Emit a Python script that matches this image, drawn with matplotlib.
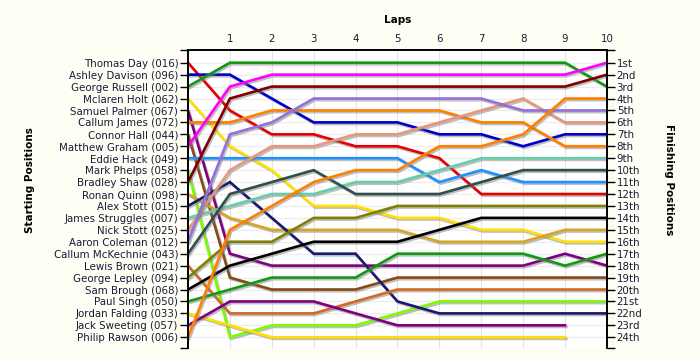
import matplotlib
matplotlib.use("Agg")
import matplotlib.pyplot as plt
import matplotlib.patheffects as pe

# ─────────────────────────────────────────────
# ДАНІ
# ─────────────────────────────────────────────

laps = [0, 1, 2, 3, 4, 5, 6, 7, 8, 9, 10]

drivers = [
    "Thomas Day (016)", "Ashley Davison (096)", "George Russell (002)",
    "Mclaren Holt (062)", "Samuel Palmer (067)", "Callum James (072)",
    "Connor Hall (044)", "Matthew Graham (005)", "Eddie Hack (049)",
    "Mark Phelps (058)", "Bradley Shaw (028)", "Ronan Quinn (098)",
    "Alex Stott (015)", "James Struggles (007)", "Nick Stott (025)",
    "Aaron Coleman (012)", "Callum McKechnie (043)", "Lewis Brown (021)",
    "George Lepley (094)", "Sam Brough (068)", "Paul Singh (050)",
    "Jordan Falding (033)", "Jack Sweeting (057)", "Philip Rawson (006)",
]

finish_labels = [
    "1st", "2nd", "3rd", "4th", "5th", "6th", "7th", "8th", "9th", "10th",
    "11th", "12th", "13th", "14th", "15th", "16th", "17th", "18th", "19th",
    "20th", "21st", "22nd", "23rd", "24th",
]

line_colors = [
    "#e60000", "#0000cc", "#119911", "#ffe000", "#800080", "#ff8000",
    "#8b4a13", "#ff00ff", "#1e90ff", "#7cfc00", "#800000", "#daa520",
    "#191970", "#66cdaa", "#e9967a", "#9370db", "#2f4f4f", "#d2691e",
    "#808000", "#000000", "#119911", "#ffe000", "#800080", "#ff8000",
]

# позиція кожного гонщика після кожного кола (None = зійшов)
lap_positions = [
    [1, 5, 7, 7, 8, 8, 9, 12, 12, 12, 12],
    [2, 2, 4, 6, 6, 6, 7, 7, 8, 7, 7],
    [3, 1, 1, 1, 1, 1, 1, 1, 1, 1, 3],
    [4, 8, 10, 13, 13, 14, 14, 15, 15, 16, 16],
    [5, 17, 18, 18, 18, 18, 18, 18, 18, 17, 18],
    [6, 6, 5, 5, 5, 5, 5, 6, 6, 8, 8],
    [7, 19, 20, 20, 20, 19, 19, 19, 19, 19, 19],
    [8, 3, 2, 2, 2, 2, 2, 2, 2, 2, 1],
    [9, 9, 9, 9, 9, 9, 11, 10, 11, 11, 11],
    [10, 24, 23, 23, 23, 22, 21, 21, 21, 21, 21],
    [11, 4, 3, 3, 3, 3, 3, 3, 3, 3, 2],
    [12, 14, 15, 15, 15, 15, 16, 16, 16, 15, 15],
    [13, 11, 14, 17, 17, 21, 22, 22, 22, 22, 22],
    [14, 13, 12, 12, 11, 11, 10, 9, 9, 9, 9],
    [15, 10, 8, 8, 7, 7, 6, 5, 4, 6, 6],
    [16, 7, 6, 4, 4, 4, 4, 4, 5, 5, 5],
    [17, 12, 11, 10, 12, 12, 12, 11, 10, 10, 10],
    [18, 22, 22, 22, 21, 20, 20, 20, 20, 20, 20],
    [19, 16, 16, 14, 14, 13, 13, 13, 13, 13, 13],
    [20, 18, 17, 16, 16, 16, 15, 14, 14, 14, 14],
    [21, 20, 19, 19, 19, 17, 17, 17, 17, 18, 17],
    [22, 23, 24, 24, 24, 24, 24, 24, 24, 24, None],
    [23, 21, 21, 21, 22, 23, 23, 23, 23, 23, None],
    [24, 15, 13, 11, 10, 10, 8, 8, 7, 4, 4],
]

BG = "#fefef4"
TEXT = "#1a1a3a"
OUTPUT_CHART = "out.png"


def build_chart(output_path):
    fig = plt.figure(figsize=(7, 3.6), dpi=100)
    fig.patch.set_facecolor(BG)
    ax = fig.add_axes([0.2686, 0.034, 0.5985, 0.827])
    ax.set_facecolor("white")

    n = len(drivers)
    y_top, y_bottom = -0.06, n + 0.88

    for color, pos in zip(line_colors, lap_positions):
        xs = [x for x, p in zip(laps, pos) if p is not None]
        ys = [p for p in pos if p is not None]
        ax.plot(xs, ys, color=color, lw=1.9, solid_joinstyle="miter",
                path_effects=[pe.SimpleLineShadow(offset=(1, -1.2), shadow_color="#808080", alpha=0.5),
                              pe.Normal()])

    ax.set_xlim(0, 10)
    ax.set_ylim(y_bottom, y_top)

    # сітка
    for x in laps[1:-1]:
        ax.axvline(x, color="#e4e4e4", lw=0.8, zorder=0)
    for y in range(1, n + 1):
        ax.axhline(y, color="#ececec", lw=0.8, zorder=0)

    ticks = [y_top] + list(range(1, n + 1)) + [y_bottom]

    # ліва вісь — стартові позиції
    ax.set_yticks(ticks)
    ax.set_yticklabels([""] + drivers + [""], fontsize=7.4, color=TEXT)
    ax.tick_params(axis="y", length=6, width=1, pad=1, direction="out")

    # права вісь — фінішні позиції
    ax2 = ax.twinx()
    ax2.set_ylim(ax.get_ylim())
    ax2.set_yticks(ticks)
    ax2.set_yticklabels([""] + finish_labels + [""], fontsize=7.4, color=TEXT)
    ax2.tick_params(axis="y", length=6, width=1, pad=1, direction="out")

    # верхня вісь — кола
    ax.xaxis.tick_top()
    ax.set_xticks(laps[1:])
    ax.set_xticklabels([str(l) for l in laps[1:]], fontsize=7.4, color=TEXT)
    ax.tick_params(axis="x", length=0, pad=4)
    ax.set_xlabel("Laps", fontsize=7.5, fontweight="bold", labelpad=8)
    ax.xaxis.set_label_position("top")

    for a in (ax, ax2):
        a.spines["bottom"].set_visible(False)
        for s in ("top", "left", "right"):
            a.spines[s].set_linewidth(1.2)

    fig.text(0.043, 0.5, "Starting Positions", rotation=90, ha="center", va="center",
             fontsize=7.5, fontweight="bold")
    fig.text(0.955, 0.5, "Finishing Positions", rotation=-90, ha="center", va="center",
             fontsize=7.5, fontweight="bold")

    fig.savefig(output_path, dpi=100, facecolor=BG)


def main():
    build_chart(OUTPUT_CHART)


if __name__ == "__main__":
    main()
